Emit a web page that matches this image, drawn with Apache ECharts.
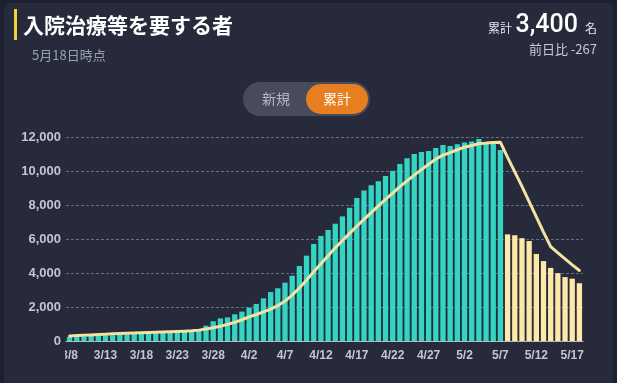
<!DOCTYPE html>
<html>
<head>
<meta charset="utf-8">
<script src="https://cdn.jsdelivr.net/npm/echarts@6/dist/echarts.min.js"></script>
<style>
html,body{margin:0;padding:0;background:#1c2030;}
#chart{width:617px;height:383px;}
</style>
</head>
<body>
<div id="chart"></div>
<script>
// ---- data ----
const categories = [
  '3/8','3/9','3/10','3/11','3/12','3/13','3/14','3/15','3/16','3/17','3/18','3/19','3/20','3/21','3/22','3/23','3/24','3/25','3/26','3/27','3/28','3/29','3/30','3/31',
  '4/1','4/2','4/3','4/4','4/5','4/6','4/7','4/8','4/9','4/10','4/11','4/12','4/13','4/14','4/15','4/16','4/17','4/18','4/19','4/20','4/21','4/22','4/23','4/24','4/25','4/26','4/27','4/28','4/29','4/30',
  '5/1','5/2','5/3','5/4','5/5','5/6','5/7','5/8','5/9','5/10','5/11','5/12','5/13','5/14','5/15','5/16','5/17','5/18'
];
const dailyValues = [
  240,250,270,290,310,330,340,360,380,400,420,440,460,480,490,510,530,560,640,900,1160,1330,1390,1570,
  1730,1960,2180,2510,2880,3100,3430,3840,4410,5020,5710,6180,6530,6900,7330,7840,8410,8860,9160,9390,9710,10020,10410,10750,11000,11120,11180,11350,11530,11470,
  11570,11670,11730,11880,11710,11670,11240,6270,6220,6050,5880,5120,4700,4300,3990,3760,3667,3400
];
const averageValues = [
  300,320,340,360,380,400,420,440,455,470,485,500,515,530,545,560,580,600,640,700,780,870,980,1100,
  1250,1420,1560,1710,1880,2080,2350,2700,3120,3580,4070,4540,5020,5480,5910,6330,6750,7150,7550,7950,8330,8700,9080,9420,9760,10080,10400,10700,10930,11080,
  11250,11400,11500,11600,11640,11670,11690,10800,9950,9100,8200,7300,6400,5550,5180,4830,4480,4150
];
const yTicks = [0, 2000, 4000, 6000, 8000, 10000, 12000];
const secondColorFrom = '5/8';

const titleText = '入院治療等を要する者';
const dateText = '5月18日時点';
const totalLabel = '累計';
const totalValue = '3,400';
const totalUnit = '名';
const diffText = '前日比 -267';
const toggleLabels = ['新規', '累計'];

// ---- styles ----
const TEAL = '#34d4c3';
const CREAM = '#fde8a8';
const LINE = '#f3e2a4';
const CARD = '#262a3b';
const JP = '"Noto Sans CJK JP", "Noto Sans", sans-serif';
const NUM = 'Roboto, "Liberation Sans", sans-serif';
const LAB = '"Liberation Sans", Arial, sans-serif';
const splitIdx = categories.indexOf(secondColorFrom);

const chart = echarts.init(document.getElementById('chart'), null, {renderer: 'canvas'});
chart.setOption({
  backgroundColor: '#1c2030',
  animation: false,
  grid: {left: 66, right: 34, top: 137, bottom: 42, containLabel: false},
  xAxis: {
    type: 'category',
    data: categories,
    boundaryGap: true,
    axisTick: {show: false},
    axisLine: {show: true, lineStyle: {color: '#b7bcc8', width: 1}},
    axisLabel: {
      interval: 4, margin: 9, color: '#c3c6d0', fontSize: 12, fontWeight: 'bold', fontFamily: LAB
    }
  },
  yAxis: {
    type: 'value', min: yTicks[0], max: yTicks[yTicks.length - 1], interval: yTicks[1] - yTicks[0],
    axisLine: {show: false}, axisTick: {show: false},
    axisLabel: {
      margin: 5, color: '#c3c6d0', fontSize: 13, fontWeight: 'bold', fontFamily: LAB,
      formatter: v => v.toLocaleString('en-US')
    },
    splitLine: {show: true, lineStyle: {color: '#6a6f80', type: [3, 2], width: 1}}
  },
  series: [
    {
      type: 'bar',
      data: dailyValues.map((v, i) => ({value: v, itemStyle: {color: i >= splitIdx ? CREAM : TEAL}})),
      barCategoryGap: '26%',
      z: 2
    },
    {
      type: 'line',
      data: averageValues,
      symbol: 'none',
      smooth: false,
      lineStyle: {color: LINE, width: 3, cap: 'round', join: 'round'},
      z: 3
    }
  ],
  graphic: [
    {type: 'rect', z: -10, shape: {x: 4, y: 3, width: 609, height: 382, r: 6}, style: {fill: CARD}},
    {type: 'rect', z: 20, shape: {x: 50, y: 349, width: 15, height: 18}, style: {fill: CARD}},
    {type: 'rect', z: 10, shape: {x: 14, y: 9, width: 3, height: 31}, style: {fill: '#f0d23a'}},
    {type: 'text', z: 10, x: 23, y: 25, style: {text: titleText, fill: '#ffffff', font: 'bold 21px ' + JP, textVerticalAlign: 'middle'}},
    {type: 'text', z: 10, x: 32, y: 55, style: {text: dateText, fill: '#9ca1ae', font: '13px ' + JP, textVerticalAlign: 'middle'}},
    {type: 'text', z: 10, x: 512, y: 28, style: {text: totalLabel, fill: '#e6e7ec', font: '12px ' + JP, textAlign: 'right', textVerticalAlign: 'middle'}},
    {type: 'text', z: 10, x: 578, y: 26, style: {text: totalValue, fill: '#ffffff', font: '500 25px ' + NUM, textAlign: 'right', textVerticalAlign: 'middle'}},
    {type: 'text', z: 10, x: 597, y: 28, style: {text: totalUnit, fill: '#e6e7ec', font: '12px ' + JP, textAlign: 'right', textVerticalAlign: 'middle'}},
    {type: 'text', z: 10, x: 597, y: 49, style: {text: diffText, fill: '#c8cad2', font: '13px ' + JP, textAlign: 'right', textVerticalAlign: 'middle'}},
    {type: 'rect', z: 10, shape: {x: 243, y: 82, width: 127, height: 34, r: 17}, style: {fill: '#474b5b'}},
    {type: 'rect', z: 11, shape: {x: 306, y: 84, width: 62, height: 30, r: 15}, style: {fill: '#e77e1f'}},
    {type: 'text', z: 12, x: 276, y: 99, style: {text: toggleLabels[0], fill: '#b4b8c3', font: '14px ' + JP, textAlign: 'center', textVerticalAlign: 'middle'}},
    {type: 'text', z: 12, x: 337, y: 99, style: {text: toggleLabels[1], fill: '#ffffff', font: '14px ' + JP, textAlign: 'center', textVerticalAlign: 'middle'}}
  ]
});
</script>
</body>
</html>
